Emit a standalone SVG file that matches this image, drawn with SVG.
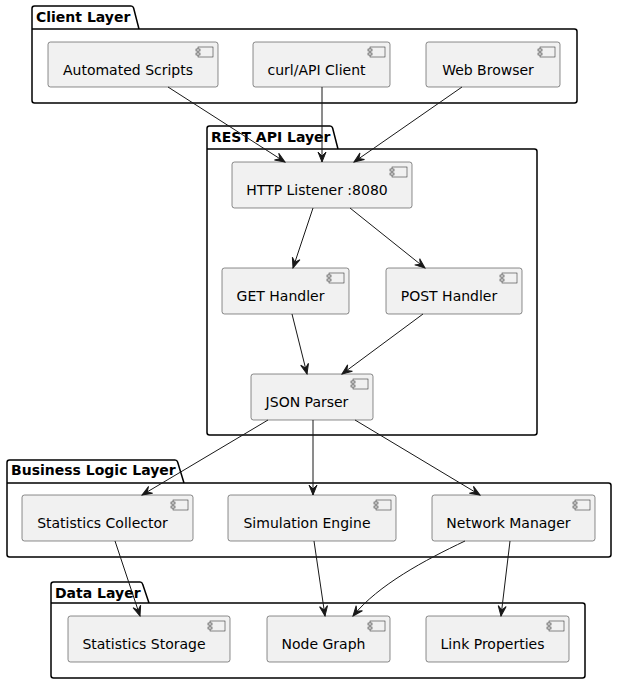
<svg xmlns="http://www.w3.org/2000/svg" width="617" height="684" viewBox="0 0 617 684">
<defs>
<style>
.pkg{fill:none;stroke:#000;stroke-width:1.5;stroke-linejoin:round}
.pt{font-family:"DejaVu Sans",sans-serif;font-size:14px;font-weight:bold;fill:#000}
.cb{fill:#F1F1F1;stroke:#181818;stroke-width:0.5}
.ic{fill:#F1F1F1;stroke:#181818;stroke-width:0.5}
.ct{font-family:"DejaVu Sans",sans-serif;font-size:14px;fill:#000;text-anchor:middle}
.ed{fill:none;stroke:#181818;stroke-width:1}
</style>
<marker id="ah" viewBox="-11 -5 12 10" refX="0" refY="0" markerWidth="12" markerHeight="10" markerUnits="userSpaceOnUse" orient="auto">
<path d="M0,0 L-10,-4 L-6,0 L-10,4 Z" fill="#181818" stroke="#181818" stroke-width="1" stroke-linejoin="miter"/>
</marker>
<g id="icon">
<rect class="ic" x="0" y="0" width="15" height="10"/>
<rect class="ic" x="-2" y="2" width="4" height="2"/>
<rect class="ic" x="-2" y="6" width="4" height="2"/>
</g>
</defs>
<rect width="617" height="684" fill="#fff"/>

<g id="pkg-client">
<path class="pkg" d="M34.5,6 L131,6 Q133,6 133.6,8 L139,29 L574.5,29 Q577,29 577,31.5 L577,100.5 Q577,103 574.5,103 L34.5,103 Q32,103 32,100.5 L32,8.5 Q32,6 34.5,6 Z M32,29 L139,29"/>
<text class="pt" x="36" y="22">Client Layer</text>
</g>
<g id="pkg-rest">
<path class="pkg" d="M209.5,126 L330,126 Q332,126 332.6,128 L338,149 L534.5,149 Q537,149 537,151.5 L537,432.5 Q537,435 534.5,435 L209.5,435 Q207,435 207,432.5 L207,128.5 Q207,126 209.5,126 Z M207,149 L338,149"/>
<text class="pt" x="211" y="142">REST API Layer</text>
</g>
<g id="pkg-business">
<path class="pkg" d="M9.5,460 L175,460 Q177,460 177.6,462 L184,483 L608.5,483 Q611,483 611,485.5 L611,554.5 Q611,557 608.5,557 L9.5,557 Q7,557 7,554.5 L7,462.5 Q7,460 9.5,460 Z M7,483 L184,483"/>
<text class="pt" x="11" y="475">Business Logic Layer</text>
</g>
<g id="pkg-data">
<path class="pkg" d="M53.5,582 L140,582 Q142,582 142.6,584 L149,603 L582.5,603 Q585,603 585,605.5 L585,675.5 Q585,678 582.5,678 L53.5,678 Q51,678 51,675.5 L51,584.5 Q51,582 53.5,582 Z M51,603 L149,603"/>
<text class="pt" x="55" y="598">Data Layer</text>
</g>

<g id="automated-scripts">
<rect class="cb" x="48" y="42" width="170" height="45" rx="2.5"/>
<use href="#icon" x="198" y="47"/>
<text class="ct" x="128" y="75">Automated Scripts</text>
</g>
<g id="curl-api-client">
<rect class="cb" x="253" y="42" width="137" height="45" rx="2.5"/>
<use href="#icon" x="370" y="47"/>
<text class="ct" x="316.5" y="75">curl/API Client</text>
</g>
<g id="web-browser">
<rect class="cb" x="426" y="42" width="134" height="45" rx="2.5"/>
<use href="#icon" x="540" y="47"/>
<text class="ct" x="488" y="75">Web Browser</text>
</g>

<g id="http-listener">
<rect class="cb" x="232" y="162" width="180" height="46" rx="2.5"/>
<use href="#icon" x="392" y="167"/>
<text class="ct" x="317" y="195">HTTP Listener :8080</text>
</g>
<g id="get-handler">
<rect class="cb" x="222" y="268" width="127" height="46" rx="2.5"/>
<use href="#icon" x="329" y="273"/>
<text class="ct" x="280.5" y="301">GET Handler</text>
</g>
<g id="post-handler">
<rect class="cb" x="386" y="268" width="136" height="46" rx="2.5"/>
<use href="#icon" x="502" y="273"/>
<text class="ct" x="449" y="301">POST Handler</text>
</g>
<g id="json-parser">
<rect class="cb" x="251" y="374" width="122" height="46" rx="2.5"/>
<use href="#icon" x="353" y="379"/>
<text class="ct" x="307" y="407">JSON Parser</text>
</g>

<g id="statistics-collector">
<rect class="cb" x="22" y="495" width="171" height="46" rx="2.5"/>
<use href="#icon" x="173" y="500"/>
<text class="ct" x="102.5" y="528">Statistics Collector</text>
</g>
<g id="simulation-engine">
<rect class="cb" x="228" y="495" width="168" height="46" rx="2.5"/>
<use href="#icon" x="376" y="500"/>
<text class="ct" x="307" y="528">Simulation Engine</text>
</g>
<g id="network-manager">
<rect class="cb" x="432" y="495" width="163" height="46" rx="2.5"/>
<use href="#icon" x="575" y="500"/>
<text class="ct" x="508.5" y="528">Network Manager</text>
</g>

<g id="statistics-storage">
<rect class="cb" x="68" y="616" width="162" height="46" rx="2.5"/>
<use href="#icon" x="210" y="621"/>
<text class="ct" x="144" y="649">Statistics Storage</text>
</g>
<g id="node-graph">
<rect class="cb" x="267" y="616" width="123" height="46" rx="2.5"/>
<use href="#icon" x="370" y="621"/>
<text class="ct" x="323.5" y="649">Node Graph</text>
</g>
<g id="link-properties">
<rect class="cb" x="426" y="616" width="143" height="46" rx="2.5"/>
<use href="#icon" x="549" y="621"/>
<text class="ct" x="492.5" y="649">Link Properties</text>
</g>

<g id="connectors">
<path class="ed" marker-end="url(#ah)" d="M168,87 L285,162"/>
<path class="ed" marker-end="url(#ah)" d="M322,87 L322,162"/>
<path class="ed" marker-end="url(#ah)" d="M462,87 L354,162"/>
<path class="ed" marker-end="url(#ah)" d="M313,208 L293,268"/>
<path class="ed" marker-end="url(#ah)" d="M350,208 L425,268"/>
<path class="ed" marker-end="url(#ah)" d="M292,314 L307,374"/>
<path class="ed" marker-end="url(#ah)" d="M423,314 L342,374"/>
<path class="ed" marker-end="url(#ah)" d="M268,420 L142,495"/>
<path class="ed" marker-end="url(#ah)" d="M313,420 L313,495"/>
<path class="ed" marker-end="url(#ah)" d="M355,420 L480,495"/>
<path class="ed" marker-end="url(#ah)" d="M115,541 L140,616"/>
<path class="ed" marker-end="url(#ah)" d="M314,541 L325,616"/>
<path class="ed" marker-end="url(#ah)" d="M465,541 C425,560 378,585 353,616"/>
<path class="ed" marker-end="url(#ah)" d="M510,541 L501,616"/>
</g>
</svg>
